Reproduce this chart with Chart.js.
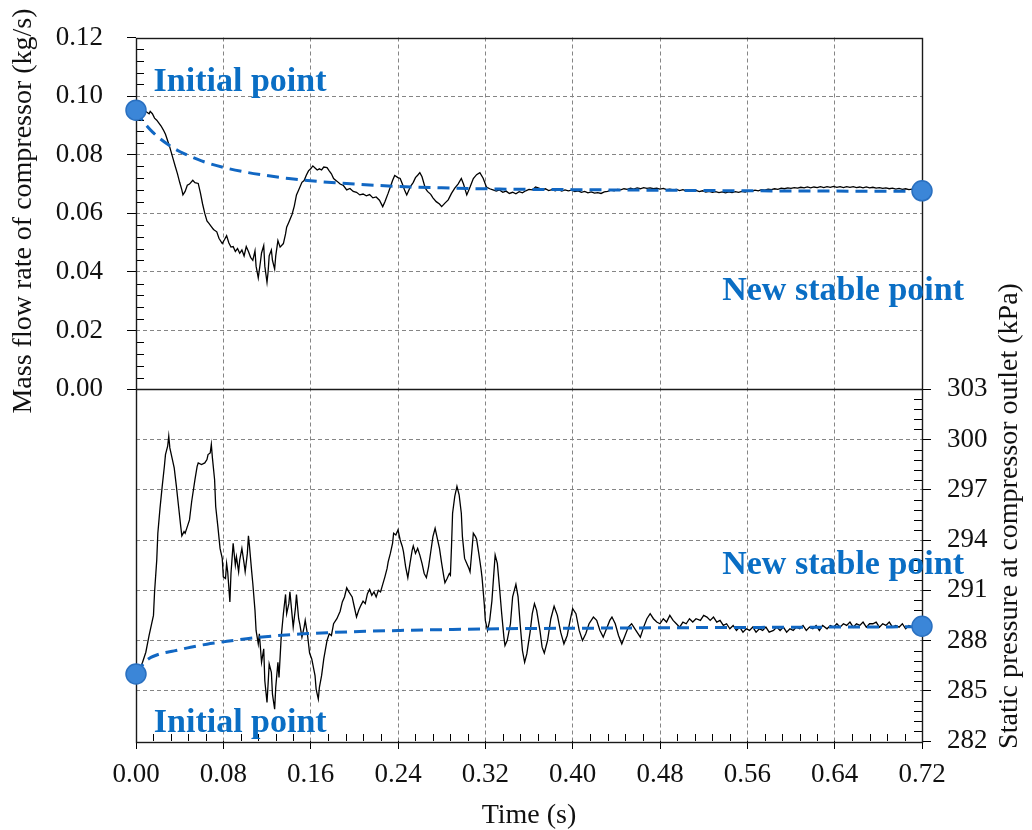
<!DOCTYPE html>
<html>
<head>
<meta charset="utf-8">
<title>Compressor transient response</title>
<script src="https://cdn.jsdelivr.net/npm/chart.js@4.4.1/dist/chart.umd.min.js"></script>
<style>
  html, body { margin: 0; padding: 0; background: #fff; }
  #wrap { width: 1032px; height: 830px; }
</style>
</head>
<body>
<div id="wrap"><canvas id="transientChart" width="1032" height="830"></canvas></div>
<script>
// ---- tick values ----
const timeTicks = [0, 0.08, 0.16, 0.24, 0.32, 0.40, 0.48, 0.56, 0.64, 0.72];
const massTicks = [0, 0.02, 0.04, 0.06, 0.08, 0.10, 0.12];
const pressureTicks = [282, 285, 288, 291, 294, 297, 300, 303];

// ---- measured mass flow rate [time s, kg/s] ----
const massTrace = [
  [0.000, 0.0965], [0.003, 0.0960], [0.006, 0.0955], [0.008, 0.0950], [0.010, 0.0945], [0.012, 0.0940],
  [0.013, 0.0948], [0.015, 0.0940], [0.017, 0.0925], [0.019, 0.0918], [0.021, 0.0908], [0.023, 0.0898],
  [0.025, 0.0885], [0.027, 0.0870], [0.029, 0.0848], [0.031, 0.0825], [0.034, 0.0786], [0.036, 0.0760],
  [0.038, 0.0735], [0.040, 0.0706], [0.042, 0.0680], [0.043, 0.0663], [0.045, 0.0675], [0.047, 0.0696],
  [0.049, 0.0700], [0.052, 0.0713], [0.054, 0.0705], [0.057, 0.0702], [0.059, 0.0670], [0.061, 0.0632],
  [0.063, 0.0600], [0.065, 0.0574], [0.067, 0.0565], [0.069, 0.0555], [0.071, 0.0545], [0.074, 0.0537],
  [0.076, 0.0515], [0.079, 0.0497], [0.081, 0.0510], [0.083, 0.0524], [0.085, 0.0500], [0.087, 0.0485],
  [0.089, 0.0487], [0.091, 0.0470], [0.093, 0.0480], [0.095, 0.0464], [0.097, 0.0475], [0.099, 0.0455],
  [0.101, 0.0487], [0.103, 0.0470], [0.105, 0.0450], [0.107, 0.0440], [0.109, 0.0472], [0.110, 0.0420],
  [0.112, 0.0380], [0.114, 0.0435], [0.115, 0.0465], [0.117, 0.0490], [0.118, 0.0420], [0.120, 0.0365],
  [0.121, 0.0400], [0.122, 0.0455], [0.124, 0.0475], [0.125, 0.0440], [0.127, 0.0410], [0.128, 0.0455],
  [0.130, 0.0507], [0.132, 0.0485], [0.135, 0.0497], [0.137, 0.0530], [0.138, 0.0553], [0.140, 0.0570],
  [0.143, 0.0597], [0.145, 0.0625], [0.147, 0.0663], [0.149, 0.0680], [0.152, 0.0706], [0.154, 0.0712],
  [0.156, 0.0730], [0.158, 0.0745], [0.160, 0.0752], [0.162, 0.0762], [0.164, 0.0755], [0.166, 0.0748],
  [0.168, 0.0752], [0.170, 0.0748], [0.172, 0.0758], [0.175, 0.0756], [0.177, 0.0745], [0.179, 0.0735],
  [0.181, 0.0719], [0.184, 0.0710], [0.187, 0.0700], [0.190, 0.0695], [0.193, 0.0680], [0.196, 0.0685],
  [0.199, 0.0675], [0.202, 0.0672], [0.205, 0.0663], [0.208, 0.0666], [0.211, 0.0660], [0.214, 0.0664],
  [0.217, 0.0653], [0.220, 0.0656], [0.223, 0.0645], [0.226, 0.0623], [0.228, 0.0640], [0.231, 0.0669],
  [0.233, 0.0690], [0.235, 0.0712], [0.237, 0.0729], [0.240, 0.0722], [0.242, 0.0719], [0.244, 0.0700],
  [0.246, 0.0680], [0.248, 0.0663], [0.250, 0.0680], [0.252, 0.0695], [0.254, 0.0706], [0.256, 0.0722],
  [0.258, 0.0730], [0.260, 0.0739], [0.262, 0.0725], [0.265, 0.0686], [0.267, 0.0675], [0.270, 0.0665],
  [0.272, 0.0653], [0.275, 0.0640], [0.278, 0.0632], [0.280, 0.0623], [0.283, 0.0635], [0.286, 0.0646],
  [0.289, 0.0668], [0.292, 0.0686], [0.295, 0.0700], [0.298, 0.0719], [0.300, 0.0700], [0.303, 0.0663],
  [0.306, 0.0690], [0.309, 0.0719], [0.312, 0.0732], [0.315, 0.0739], [0.318, 0.0720], [0.321, 0.0690],
  [0.324, 0.0684], [0.327, 0.0680], [0.330, 0.0676], [0.333, 0.0680], [0.336, 0.0672], [0.339, 0.0676],
  [0.342, 0.0668], [0.345, 0.0672], [0.348, 0.0667], [0.351, 0.0674], [0.354, 0.0670], [0.357, 0.0677],
  [0.360, 0.0682], [0.363, 0.0680], [0.366, 0.0690], [0.369, 0.0686], [0.372, 0.0681], [0.375, 0.0684],
  [0.378, 0.0678], [0.381, 0.0681], [0.384, 0.0677], [0.387, 0.0681], [0.390, 0.0676], [0.393, 0.0680],
  [0.396, 0.0677], [0.399, 0.0679], [0.402, 0.0674], [0.405, 0.0677], [0.408, 0.0672], [0.411, 0.0675],
  [0.414, 0.0670], [0.417, 0.0673], [0.420, 0.0669], [0.423, 0.0671], [0.426, 0.0668], [0.429, 0.0673],
  [0.432, 0.0675], [0.435, 0.0679], [0.438, 0.0677], [0.441, 0.0682], [0.444, 0.0680], [0.447, 0.0684],
  [0.450, 0.0682], [0.453, 0.0686], [0.456, 0.0683], [0.459, 0.0687], [0.462, 0.0684], [0.465, 0.0688],
  [0.468, 0.0685], [0.471, 0.0687], [0.474, 0.0684], [0.477, 0.0686], [0.480, 0.0683], [0.483, 0.0685],
  [0.486, 0.0681], [0.489, 0.0683], [0.492, 0.0680], [0.495, 0.0682], [0.498, 0.0678], [0.501, 0.0681],
  [0.504, 0.0677], [0.507, 0.0679], [0.510, 0.0676], [0.513, 0.0678], [0.516, 0.0674], [0.519, 0.0677],
  [0.522, 0.0673], [0.525, 0.0675], [0.528, 0.0672], [0.531, 0.0674], [0.534, 0.0671], [0.537, 0.0673],
  [0.540, 0.0670], [0.543, 0.0673], [0.546, 0.0671], [0.549, 0.0674], [0.552, 0.0672], [0.555, 0.0675],
  [0.558, 0.0673], [0.561, 0.0677], [0.564, 0.0675], [0.567, 0.0679], [0.570, 0.0677], [0.573, 0.0681],
  [0.576, 0.0679], [0.579, 0.0683], [0.582, 0.0681], [0.585, 0.0684], [0.588, 0.0682], [0.591, 0.0686],
  [0.594, 0.0684], [0.597, 0.0687], [0.600, 0.0685], [0.603, 0.0688], [0.606, 0.0686], [0.609, 0.0689],
  [0.612, 0.0687], [0.615, 0.0690], [0.618, 0.0687], [0.621, 0.0690], [0.624, 0.0688], [0.627, 0.0691],
  [0.630, 0.0688], [0.633, 0.0691], [0.636, 0.0689], [0.639, 0.0692], [0.642, 0.0689], [0.645, 0.0691],
  [0.648, 0.0688], [0.651, 0.0691], [0.654, 0.0689], [0.657, 0.0691], [0.660, 0.0688], [0.663, 0.0690],
  [0.666, 0.0687], [0.669, 0.0690], [0.672, 0.0687], [0.675, 0.0689], [0.678, 0.0686], [0.681, 0.0688],
  [0.684, 0.0685], [0.687, 0.0687], [0.690, 0.0684], [0.693, 0.0686], [0.696, 0.0683], [0.699, 0.0685],
  [0.702, 0.0682], [0.705, 0.0684], [0.708, 0.0681], [0.711, 0.0683], [0.714, 0.0680], [0.717, 0.0681],
  [0.720, 0.0678]
];

// ---- measured outlet static pressure [time s, kPa] ----
const pressureTrace = [
  [0.000, 285.9], [0.003, 286.2], [0.006, 286.7], [0.009, 287.3], [0.012, 288.3], [0.014, 288.9],
  [0.016, 289.5], [0.017, 290.9], [0.019, 292.8], [0.020, 294.4], [0.022, 295.9], [0.024, 297.2],
  [0.026, 298.4], [0.027, 299.1], [0.029, 299.6], [0.030, 300.2], [0.031, 299.5], [0.033, 298.9],
  [0.035, 298.3], [0.037, 297.2], [0.039, 296.0], [0.041, 294.8], [0.042, 294.25], [0.044, 294.5],
  [0.045, 294.4], [0.047, 294.8], [0.049, 295.2], [0.051, 296.3], [0.054, 297.6], [0.056, 298.4],
  [0.057, 298.6], [0.060, 298.5], [0.063, 298.6], [0.065, 298.8], [0.066, 299.1], [0.068, 299.2],
  [0.069, 299.7], [0.070, 298.9], [0.072, 297.6], [0.073, 296.0], [0.075, 294.8], [0.077, 293.5],
  [0.079, 292.9], [0.080, 291.8], [0.082, 291.7], [0.083, 292.6], [0.084, 292.1], [0.086, 290.3],
  [0.087, 292.0], [0.089, 293.8], [0.091, 292.5], [0.092, 293.0], [0.094, 292.1], [0.095, 292.8],
  [0.097, 293.5], [0.099, 292.6], [0.100, 292.1], [0.102, 293.2], [0.103, 294.25], [0.104, 293.6],
  [0.106, 292.1], [0.107, 291.4], [0.109, 289.8], [0.110, 288.6], [0.112, 287.8], [0.113, 288.4],
  [0.115, 286.7], [0.117, 287.5], [0.118, 285.6], [0.120, 284.3], [0.121, 285.4], [0.122, 286.6],
  [0.124, 286.1], [0.125, 284.8], [0.127, 283.9], [0.128, 285.2], [0.130, 286.7], [0.131, 285.8],
  [0.133, 288.2], [0.135, 289.6], [0.137, 290.75], [0.138, 289.6], [0.140, 290.2], [0.141, 290.9],
  [0.143, 289.5], [0.144, 288.8], [0.146, 289.9], [0.147, 290.75], [0.149, 289.3], [0.150, 289.0],
  [0.152, 288.2], [0.154, 288.8], [0.155, 289.2], [0.157, 288.4], [0.159, 287.25], [0.161, 286.9],
  [0.164, 285.9], [0.165, 285.1], [0.167, 284.5], [0.168, 285.2], [0.170, 285.9], [0.172, 286.9],
  [0.175, 288.0], [0.177, 288.4], [0.179, 288.3], [0.181, 289.0], [0.184, 289.3], [0.187, 289.75],
  [0.189, 290.3], [0.191, 290.6], [0.193, 291.15], [0.195, 290.9], [0.198, 290.6], [0.200, 290.0],
  [0.202, 289.4], [0.204, 289.8], [0.206, 290.1], [0.208, 290.35], [0.210, 290.2], [0.212, 290.8],
  [0.214, 291.05], [0.216, 290.7], [0.218, 290.9], [0.220, 290.6], [0.222, 291.0], [0.224, 290.9],
  [0.226, 291.35], [0.228, 291.8], [0.230, 292.3], [0.231, 292.7], [0.233, 293.2], [0.235, 293.8],
  [0.236, 294.4], [0.238, 294.3], [0.240, 294.6], [0.242, 294.0], [0.244, 293.6], [0.245, 293.3],
  [0.247, 292.4], [0.249, 291.75], [0.251, 292.6], [0.253, 293.4], [0.254, 293.65], [0.256, 293.2],
  [0.258, 293.5], [0.260, 293.1], [0.262, 292.6], [0.264, 292.0], [0.266, 291.75], [0.268, 292.4],
  [0.270, 293.3], [0.272, 294.2], [0.274, 294.7], [0.276, 294.1], [0.278, 293.5], [0.280, 292.6],
  [0.282, 291.8], [0.283, 291.45], [0.285, 291.7], [0.287, 292.0], [0.288, 291.9], [0.289, 293.6],
  [0.290, 295.6], [0.292, 296.6], [0.294, 297.2], [0.296, 296.7], [0.298, 295.6], [0.299, 294.2],
  [0.301, 292.9], [0.303, 292.6], [0.305, 292.3], [0.306, 292.1], [0.308, 293.6], [0.309, 294.4],
  [0.311, 294.2], [0.312, 294.05], [0.314, 293.2], [0.316, 292.3], [0.317, 291.75], [0.319, 290.2],
  [0.320, 289.2], [0.322, 288.6], [0.324, 289.2], [0.326, 290.35], [0.328, 292.2], [0.329, 293.1],
  [0.331, 292.6], [0.333, 291.15], [0.335, 289.6], [0.337, 288.2], [0.338, 287.7], [0.340, 288.0],
  [0.343, 289.0], [0.345, 290.6], [0.348, 291.35], [0.350, 290.6], [0.352, 288.9], [0.354, 287.4],
  [0.356, 286.7], [0.358, 287.2], [0.361, 288.5], [0.363, 289.6], [0.365, 290.2], [0.367, 289.8],
  [0.370, 288.6], [0.372, 287.6], [0.374, 287.25], [0.377, 288.0], [0.380, 289.3], [0.383, 290.05],
  [0.386, 289.5], [0.389, 288.5], [0.392, 287.8], [0.395, 288.3], [0.398, 289.3], [0.400, 289.9],
  [0.403, 289.6], [0.406, 288.6], [0.409, 288.0], [0.412, 288.4], [0.415, 289.0], [0.419, 289.4],
  [0.422, 289.2], [0.425, 288.6], [0.428, 288.2], [0.431, 288.7], [0.434, 289.2], [0.436, 289.4],
  [0.439, 289.0], [0.442, 288.3], [0.445, 287.8], [0.448, 288.3], [0.451, 288.8], [0.454, 289.0],
  [0.457, 288.7], [0.460, 288.4], [0.462, 288.2], [0.465, 288.8], [0.468, 289.3], [0.471, 289.6],
  [0.474, 289.3], [0.477, 289.1], [0.480, 289.0], [0.483, 289.3], [0.486, 289.1], [0.489, 289.5],
  [0.492, 289.2], [0.495, 289.0], [0.498, 288.8], [0.501, 289.1], [0.504, 289.0], [0.507, 289.3],
  [0.510, 289.1], [0.513, 289.3], [0.517, 289.2], [0.520, 289.5], [0.523, 289.4], [0.526, 289.2],
  [0.529, 289.4], [0.532, 289.1], [0.535, 289.2], [0.538, 288.9], [0.541, 289.0], [0.544, 288.7],
  [0.547, 288.9], [0.550, 288.6], [0.553, 288.8], [0.556, 288.5], [0.559, 288.7], [0.562, 288.6],
  [0.565, 288.8], [0.568, 288.5], [0.571, 288.7], [0.574, 288.6], [0.577, 288.8], [0.580, 288.5],
  [0.584, 288.6], [0.587, 288.8], [0.590, 288.6], [0.593, 288.8], [0.596, 288.5], [0.599, 288.7],
  [0.602, 288.6], [0.605, 288.8], [0.608, 288.7], [0.611, 288.9], [0.614, 288.6], [0.617, 288.8],
  [0.620, 288.7], [0.623, 288.9], [0.626, 288.6], [0.629, 288.9], [0.633, 288.7], [0.636, 288.9],
  [0.639, 288.8], [0.642, 289.0], [0.645, 288.8], [0.648, 289.0], [0.651, 288.9], [0.654, 289.1],
  [0.657, 288.8], [0.660, 289.0], [0.663, 288.9], [0.666, 289.1], [0.669, 288.8], [0.672, 289.0],
  [0.675, 289.0], [0.678, 289.1], [0.681, 288.8], [0.684, 289.0], [0.687, 288.9], [0.690, 289.1],
  [0.693, 288.8], [0.696, 288.9], [0.699, 288.8], [0.702, 289.0], [0.705, 288.7], [0.708, 288.9],
  [0.711, 288.8], [0.714, 288.9], [0.717, 288.7], [0.720, 288.8]
];

// ---- settling trends (dashed) ----
const massTrend = [
  [0.000, 0.0952], [0.005, 0.0922], [0.010, 0.0898], [0.015, 0.0878], [0.020, 0.0861], [0.030, 0.0833],
  [0.040, 0.0811], [0.050, 0.0794], [0.060, 0.0779], [0.080, 0.0757], [0.100, 0.0741], [0.120, 0.0729],
  [0.140, 0.0719], [0.170, 0.0708], [0.200, 0.0700], [0.240, 0.0692], [0.280, 0.0687], [0.333, 0.0683],
  [0.400, 0.0681], [0.480, 0.0679], [0.560, 0.0677], [0.640, 0.0676], [0.720, 0.0675]
];
const pressureTrend = [
  [0.000, 286.0], [0.004, 286.35], [0.008, 286.72], [0.012, 286.93], [0.016, 287.06], [0.024, 287.24],
  [0.035, 287.38], [0.050, 287.60], [0.065, 287.78], [0.078, 287.90], [0.093, 288.04], [0.108, 288.16],
  [0.128, 288.28], [0.150, 288.39], [0.180, 288.48], [0.210, 288.55], [0.242, 288.60], [0.290, 288.66],
  [0.333, 288.70], [0.400, 288.73], [0.480, 288.76], [0.560, 288.78], [0.640, 288.80], [0.720, 288.82]
];

// initial and new stable operating points
const massPoints = [[0, 0.0952], [0.72, 0.0677]];
const pressurePoints = [[0, 286.0], [0.72, 288.85]];

// annotation text anchors (data units, baseline-left)
const notes = [
  { text: 'Initial point', axis: 'yMass', t: 0.0161, v: 0.1019 },
  { text: 'New stable point', axis: 'yMass', t: 0.537, v: 0.0305 },
  { text: 'Initial point', axis: 'yPress', t: 0.0163, v: 282.54 },
  { text: 'New stable point', axis: 'yPress', t: 0.537, v: 291.95 }
];

const SERIF = "'Liberation Serif', 'Times New Roman', Times, serif";
const GRID = '#858585';
const NOTE_BLUE = '#0a6ec4';
const TREND_BLUE = '#1167c3';
const xy = pairs => pairs.map(([x, y]) => ({ x, y }));
const edgeless = n => c => (c.index === 0 || c.index === n - 1) ? 'rgba(0,0,0,0)' : GRID;
const tickFont = { family: SERIF, size: 27, lineHeight: 1 };

// box, panel divider and inward minor ticks
const panelFrame = {
  id: 'panelFrame',
  beforeDatasetsDraw(chart) {
    const { ctx, chartArea: a, scales: { x, yMass, yPress } } = chart;
    const px = v => Math.round(v) + 0.5;
    ctx.save();
    ctx.strokeStyle = '#000';
    ctx.lineWidth = 1;
    ctx.beginPath();
    for (let i = 1; i < 30; i++) {
      if (i % 5 === 0) continue;
      const y = px(yMass.getPixelForValue(i * 0.004));
      ctx.moveTo(a.left, y); ctx.lineTo(a.left + 8, y);
    }
    for (let i = 1; i < 35; i++) {
      if (i % 5 === 0) continue;
      const y = px(yPress.getPixelForValue(282 + i * 0.6));
      ctx.moveTo(a.right, y); ctx.lineTo(a.right - 8, y);
    }
    for (let i = 1; i < 45; i++) {
      if (i % 5 === 0) continue;
      const xx = px(x.getPixelForValue(i * 0.016));
      ctx.moveTo(xx, a.bottom); ctx.lineTo(xx, a.bottom - 7);
    }
    ctx.stroke();
    ctx.lineWidth = 1.4;
    ctx.strokeStyle = '#1a1a1a';
    ctx.strokeRect(px(a.left), px(a.top), Math.round(a.width), Math.round(a.height));
    const mid = px(yMass.getPixelForValue(0));
    ctx.beginPath();
    ctx.moveTo(a.left, mid); ctx.lineTo(a.right, mid);
    ctx.stroke();
    ctx.restore();
  }
};

// rotated axis titles and the point annotations
const panelText = {
  id: 'panelText',
  afterDraw(chart) {
    const { ctx, scales } = chart;
    ctx.save();
    ctx.fillStyle = '#111';
    ctx.font = `28px ${SERIF}`;
    ctx.textAlign = 'center';
    ctx.textBaseline = 'middle';
    [['Mass flow rate of compressor (kg/s)', 24, 211],
     ['Static pressure at compressor outlet (kPa)', 1010, 516]].forEach(([txt, x, y]) => {
      ctx.save();
      ctx.translate(x, y);
      ctx.rotate(-Math.PI / 2);
      ctx.fillText(txt, 0, 0);
      ctx.restore();
    });
    ctx.font = `bold 34px ${SERIF}`;
    ctx.fillStyle = NOTE_BLUE;
    ctx.textAlign = 'left';
    ctx.textBaseline = 'alphabetic';
    notes.forEach(n => {
      ctx.fillText(n.text, scales.x.getPixelForValue(n.t), scales[n.axis].getPixelForValue(n.v));
    });
    ctx.restore();
  }
};

const traceStyle = { borderColor: '#000', borderWidth: 1.3, pointRadius: 0, tension: 0, order: 2 };
const trendStyle = { borderColor: TREND_BLUE, borderWidth: 3, borderDash: [12, 7], pointRadius: 0,
                     cubicInterpolationMode: 'monotone', order: 1 };
const markerStyle = { showLine: false, pointRadius: 10, pointBorderWidth: 1.5,
                      pointBackgroundColor: '#3b86d8', pointBorderColor: '#2a70c0', clip: false, order: 0 };

new Chart(document.getElementById('transientChart'), {
  type: 'line',
  data: {
    datasets: [
      { label: 'Mass flow rate', data: xy(massTrace), yAxisID: 'yMass', ...traceStyle },
      { label: 'Static pressure', data: xy(pressureTrace), yAxisID: 'yPress', ...traceStyle },
      { label: 'Mass flow trend', data: xy(massTrend), yAxisID: 'yMass', ...trendStyle },
      { label: 'Pressure trend', data: xy(pressureTrend), yAxisID: 'yPress', ...trendStyle },
      { label: 'Mass flow points', data: xy(massPoints), yAxisID: 'yMass', ...markerStyle },
      { label: 'Pressure points', data: xy(pressurePoints), yAxisID: 'yPress', ...markerStyle }
    ]
  },
  options: {
    responsive: false,
    animation: false,
    devicePixelRatio: 1,
    layout: { padding: { top: 18, right: 0, bottom: 0, left: 0 } },
    plugins: { legend: { display: false }, tooltip: { enabled: false } },
    scales: {
      x: {
        type: 'linear', position: 'bottom', min: 0, max: 0.72,
        afterBuildTicks: s => { s.ticks = timeTicks.map(v => ({ value: v })); },
        afterFit: s => { s.height = 89; },
        ticks: { font: tickFont, color: '#111', padding: 12, maxRotation: 0, autoSkip: false,
                 callback: v => Number(v).toFixed(2) },
        grid: { color: edgeless(timeTicks.length), lineWidth: 1, tickLength: 8, tickColor: '#000', tickWidth: 1 },
        border: { display: false, dash: [4, 3] },
        title: { display: true, text: 'Time (s)', color: '#111', padding: 0,
                 font: { family: SERIF, size: 28, lineHeight: 1 } }
      },
      yMass: {
        type: 'linear', position: 'left', min: -0.12, max: 0.12,
        afterBuildTicks: s => { s.ticks = massTicks.map(v => ({ value: v })); },
        afterFit: s => { s.width = 136; },
        ticks: { font: tickFont, color: '#111', padding: 24, callback: v => Number(v).toFixed(2) },
        grid: { color: edgeless(massTicks.length), lineWidth: 1, tickLength: 9, tickColor: '#000', tickWidth: 1 },
        border: { display: false, dash: [4, 3] }
      },
      yPress: {
        type: 'linear', position: 'right', min: 282, max: 324,
        afterBuildTicks: s => { s.ticks = pressureTicks.map(v => ({ value: v })); },
        afterFit: s => { s.width = 110; },
        ticks: { font: tickFont, color: '#111', padding: 16, callback: v => String(v) },
        grid: { color: edgeless(pressureTicks.length), lineWidth: 1, tickLength: 9, tickColor: '#000', tickWidth: 1 },
        border: { display: false, dash: [4, 3] }
      }
    }
  },
  plugins: [panelFrame, panelText]
});
</script>
</body>
</html>
